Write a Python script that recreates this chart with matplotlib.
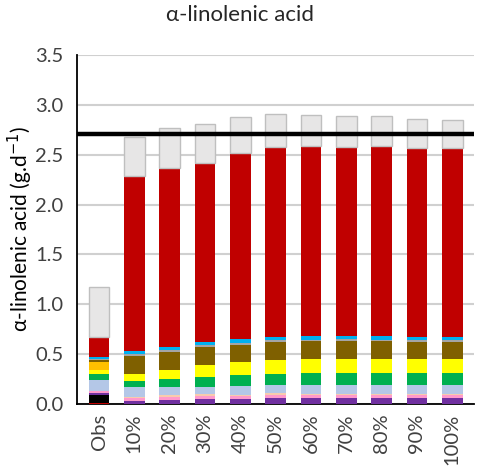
import numpy as np
import matplotlib.pyplot as plt

plt.rcParams['font.family'] = ['Lato', 'DejaVu Sans']

# scenario labels
labels = ["Obs", "10%", "20%", "30%", "40%", "50%", "60%", "70%", "80%", "90%", "100%"]

# stacked contributions (g/d), bottom to top
dark_red = [0.013, 0, 0, 0, 0, 0, 0, 0, 0, 0, 0]
black    = [0.074, 0, 0, 0, 0, 0, 0, 0, 0, 0, 0]
purple   = [0.026, 0.033, 0.040, 0.047, 0.047, 0.057, 0.060, 0.060, 0.063, 0.060, 0.060]
pink     = [0.017, 0.027, 0.033, 0.036, 0.034, 0.033, 0.030, 0.027, 0.024, 0.027, 0.027]
peach    = [0.000, 0.013, 0.014, 0.014, 0.013, 0.017, 0.014, 0.014, 0.013, 0.013, 0.013]
lt_blue  = [0.109, 0.094, 0.083, 0.075, 0.087, 0.082, 0.085, 0.088, 0.089, 0.088, 0.090]
green    = [0.063, 0.066, 0.080, 0.100, 0.110, 0.116, 0.120, 0.122, 0.123, 0.122, 0.122]
yellow   = [0.037, 0.066, 0.090, 0.117, 0.130, 0.140, 0.140, 0.144, 0.143, 0.142, 0.142]
orange   = [0.087, 0, 0, 0, 0, 0, 0, 0, 0, 0, 0]
brown    = [0.013, 0.186, 0.180, 0.184, 0.175, 0.177, 0.180, 0.177, 0.175, 0.172, 0.170]
grey     = [0.010, 0.020, 0.018, 0.017, 0.020, 0.017, 0.017, 0.017, 0.017, 0.017, 0.017]
sky_blue = [0.023, 0.026, 0.030, 0.033, 0.033, 0.033, 0.033, 0.033, 0.033, 0.033, 0.033]
red      = [0.199, 1.759, 1.794, 1.794, 1.872, 1.902, 1.911, 1.898, 1.904, 1.893, 1.891]
light_gr = [0.505, 0.390, 0.410, 0.390, 0.360, 0.330, 0.310, 0.310, 0.300, 0.290, 0.280]

reference = 2.71

series = [
    (dark_red, "#C00000"),
    (black, "#000000"),
    (purple, "#7030A0"),
    (pink, "#FF99CC"),
    (peach, "#F8CBAD"),
    (lt_blue, "#B4C7E7"),
    (green, "#00B050"),
    (yellow, "#FFFF00"),
    (orange, "#FFC000"),
    (brown, "#7F6000"),
    (grey, "#A5A5A5"),
    (sky_blue, "#00B0F0"),
    (red, "#C00000"),
    (light_gr, "#E7E6E6"),
]

fig = plt.figure(figsize=(4.79, 4.66), dpi=100)
ax = fig.add_axes([0.161, 0.133, 0.829, 0.749])

x = np.arange(len(labels))
bottom = np.zeros(len(labels))
for vals, col in series:
    vals = np.array(vals)
    if col == "#E7E6E6":
        ax.bar(x, vals, 0.58, bottom=bottom, color=col, edgecolor="#BFBFBF",
               linewidth=1.0, zorder=3)
    else:
        ax.bar(x, vals, 0.58, bottom=bottom, color=col, linewidth=0, zorder=3)
    bottom += vals

ax.axhline(reference, color="black", linewidth=3.2, zorder=4)

ax.set_ylim(0, 3.5)
ax.set_xlim(-0.62, len(labels) - 0.38)
ax.set_yticks(np.arange(0, 3.51, 0.5))
ax.set_yticklabels([f"{v:.1f}" for v in np.arange(0, 3.51, 0.5)], fontsize=14.5, color="#404040")
ax.set_xticks(x)
ax.set_xticklabels(labels, rotation=90, fontsize=14.5, color="#404040")
ax.tick_params(axis="y", length=0, pad=10)
ax.tick_params(axis="x", length=0, pad=7)
ax.yaxis.grid(True, color="#D0D0D0", linewidth=1.5, zorder=0)
ax.set_axisbelow(True)
for s in ["top", "right"]:
    ax.spines[s].set_visible(False)
ax.spines["left"].set_linewidth(1.3)
ax.spines["bottom"].set_linewidth(1.3)

ax.set_ylabel("α-linolenic acid (g.d$^{-1}$)", fontsize=15, labelpad=0)
fig.suptitle("α-linolenic acid", fontsize=16, y=0.99, color="#262626")

fig.savefig("out.png", dpi=100)
